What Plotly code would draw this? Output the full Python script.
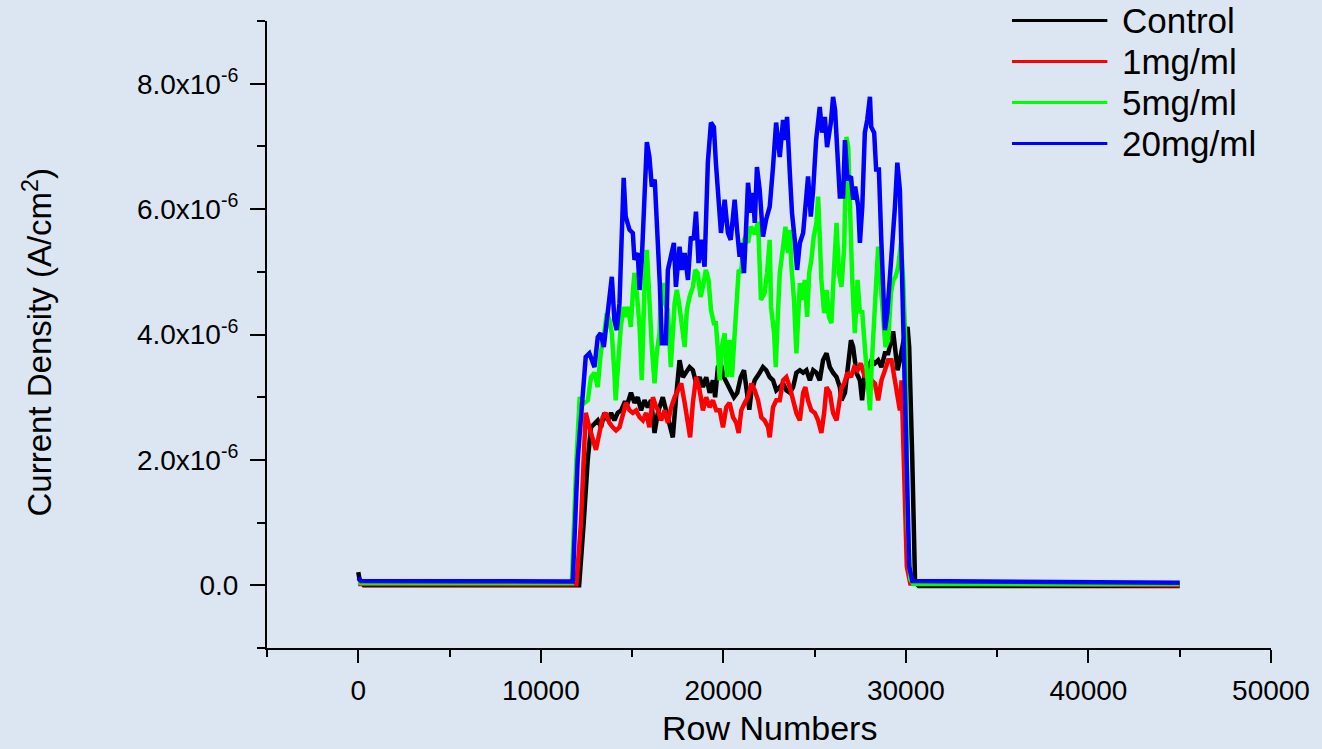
import plotly.graph_objects as go

# Current density traces, values in units of 1e-6 A/cm^2
UNIT = 1e-6

rows_control = [0, 80, 300, 6000, 12100, 12350, 12570, 12750, 12940, 13120, 13300, 13480, 13670, 13850,
                14030, 14210, 14400, 14580, 14760, 14940, 15130, 15310, 15490, 15680, 15860, 16040, 16230,
                16410, 16680, 16860, 17050, 17230, 17410, 17600, 17780, 17960, 18150, 18330, 18510, 18700,
                18880, 19060, 19250, 19430, 19550, 19700, 19850, 20030, 20210, 20400, 20580, 20760, 20950,
                21130, 21310, 21420, 21530, 21720, 21990, 22170, 22350, 22540, 22720, 22900, 23090, 23270,
                23450, 23640, 23820, 24000, 24190, 24370, 24550, 24740, 24920, 25100, 25280, 25460, 25650,
                25830, 26010, 26200, 26380, 26470, 26660, 26840, 26990, 27110, 27290, 27480, 27600, 27750,
                27940, 28120, 28300, 28480, 28660, 28850, 29030, 29300, 29400, 29540, 29670, 29800, 29950,
                30090, 30180, 30350, 30500, 30700, 45000]
cd_control = [0.21, 0.08, 0.0, 0.0, 0.0, 1.0, 2.0, 2.52, 2.59, 2.63, 2.52, 2.75, 2.63, 2.75,
              2.63, 2.75, 2.79, 2.91, 2.91, 3.07, 2.91, 3.0, 2.79, 2.95, 2.84, 2.95, 2.43,
              2.75, 3.0, 2.79, 2.59, 2.36, 3.0, 3.59, 3.32, 3.39, 3.48, 3.43, 3.22, 3.32,
              3.16, 3.32, 3.07, 3.27, 3.0, 3.48, 3.54, 3.32, 3.22, 3.11, 3.0, 3.07, 3.32,
              3.43, 3.0, 2.8, 3.07, 3.27, 3.39, 3.48, 3.43, 3.32, 3.27, 3.11, 3.16, 3.22,
              3.11, 3.07, 3.16, 3.39, 3.43, 3.39, 3.43, 3.27, 3.43, 3.39, 3.27, 3.59, 3.7,
              3.48, 3.39, 3.32, 3.16, 2.95, 3.07, 3.48, 3.91, 3.8, 3.39, 3.27, 2.95, 3.39,
              3.48, 3.59, 3.54, 3.59, 3.48, 3.7, 3.7, 4.05, 3.8, 3.43, 3.59, 3.8, 4.02,
              4.12, 3.8, 2.0, 0.05, -0.01, -0.01]

rows_1mg = [0, 6000, 11950, 12200, 12400, 12460, 12660, 12840, 13020, 13210, 13390, 13570, 13760, 13940,
            14120, 14310, 14490, 14670, 14860, 15040, 15220, 15410, 15590, 15770, 15950, 16140, 16320,
            16410, 16590, 16780, 16960, 17140, 17330, 17510, 17690, 17880, 18060, 18180, 18330, 18510,
            18700, 18880, 19060, 19250, 19430, 19610, 19800, 19980, 20160, 20340, 20530, 20710, 20840,
            20980, 21170, 21350, 21530, 21720, 21900, 22080, 22260, 22450, 22540, 22720, 22900, 23090,
            23270, 23450, 23640, 23820, 24000, 24190, 24370, 24490, 24640, 24820, 25010, 25190, 25370,
            25520, 25650, 25830, 26010, 26200, 26380, 26480, 26620, 26800, 26990, 27170, 27350, 27530,
            27750, 27940, 28120, 28300, 28480, 28660, 28850, 29030, 29210, 29400, 29540, 29670, 29760,
            29900, 30050, 30240, 45000]
cd_1mg = [0.02, 0.015, 0.015, 1.0, 2.5, 2.75, 2.52, 2.32, 2.16, 2.43, 2.68, 2.75, 2.59, 2.52,
          2.47, 2.52, 2.75, 2.91, 2.79, 2.75, 2.79, 2.68, 2.63, 2.75, 2.52, 3.0, 2.84,
          2.8, 2.63, 2.79, 2.59, 2.84, 3.0, 3.11, 3.22, 2.91, 2.59, 2.36, 2.91, 3.32,
          3.11, 2.79, 3.0, 2.84, 2.95, 2.79, 2.79, 2.52, 2.84, 2.91, 2.68, 2.59, 2.43,
          2.79, 2.91, 3.0, 3.22, 3.11, 2.95, 2.68, 2.63, 2.52, 2.36, 2.84, 2.95, 2.95,
          3.27, 3.32, 3.16, 2.95, 2.75, 2.63, 3.07, 3.16, 2.95, 2.79, 2.75, 2.63, 2.43,
          2.75, 3.16, 3.07, 2.75, 2.63, 2.95, 3.16, 3.22, 3.39, 3.32, 3.48, 3.43, 3.54,
          3.32, 3.39, 3.27, 3.22, 2.95, 3.27, 3.43, 3.59, 3.59, 3.27, 2.95, 2.79, 3.27,
          1.6, 0.3, 0.03, 0.0]

rows_5mg = [0, 150, 6000, 11700, 11950, 12130, 12350, 12570, 12750, 12940, 13120, 13280, 13480, 13610,
            13760, 13890, 14030, 14100, 14250, 14380, 14540, 14650, 14800, 14930, 15040, 15130, 15260,
            15410, 15530, 15680, 15810, 15950, 16080, 16230, 16350, 16500, 16560, 16680, 16790, 16960,
            17120, 17330, 17450, 17600, 17730, 17880, 18000, 18150, 18330, 18460, 18600, 18750, 18880,
            19040, 19190, 19320, 19480, 19590, 19700, 19800, 19920, 20070, 20200, 20340, 20470, 20580,
            20710, 20840, 20970, 21130, 21240, 21350, 21500, 21720, 21900, 22060, 22260, 22390, 22540,
            22610, 22780, 22870, 22990, 23090, 23270, 23400, 23540, 23640, 23730, 23870, 24000, 24090,
            24190, 24310, 24460, 24590, 24700, 24820, 24950, 25100, 25190, 25280, 25370, 25520, 25650,
            25780, 25920, 26050, 26200, 26330, 26470, 26620, 26740, 26840, 26930, 27060, 27200, 27350,
            27480, 27600, 27750, 27900, 28030, 28120, 28260, 28390, 28480, 28630, 28760, 28880, 29030,
            29180, 29310, 29430, 29580, 29730, 29850, 29980, 30090, 30240, 30400, 45000]
cd_5mg = [0.05, 0.035, 0.035, 0.035, 2.0, 3.0, 2.9, 2.95, 3.32, 3.39, 3.16, 3.7, 4.02, 4.34,
          4.23, 4.02, 3.39, 2.95, 3.59, 4.12, 4.44, 4.28, 4.44, 4.12, 4.66, 4.98, 4.66,
          4.12, 3.27, 4.76, 5.35, 4.44, 3.8, 3.22, 3.7, 4.02, 4.5, 4.82, 4.5, 4.39,
          3.48, 4.5, 4.71, 4.44, 4.18, 3.8, 4.39, 4.6, 4.76, 5.03, 4.98, 4.6, 4.76,
          5.03, 4.87, 4.39, 4.18, 4.18, 3.75, 3.27, 3.8, 4.02, 3.32, 3.91, 3.32, 3.86,
          4.6, 5.03, 4.98, 5.51, 5.56, 5.46, 5.72, 5.6, 5.8, 4.55, 4.66, 4.98, 5.51,
          4.44, 4.02, 3.48, 4.34, 4.98, 5.4, 5.72, 5.3, 5.67, 5.08, 4.55, 3.7, 4.23,
          4.82, 4.55, 4.87, 4.28, 4.98, 5.19, 5.56, 5.78, 6.2, 5.56, 4.87, 4.34, 4.71,
          4.28, 4.18, 4.98, 5.78, 4.98, 4.76, 5.4, 7.15, 6.99, 6.04, 4.87, 4.02, 4.87,
          4.34, 4.39, 3.8, 3.27, 2.79, 3.48, 4.34, 5.08, 5.4, 4.76, 4.23, 3.8, 3.91,
          4.66, 4.87, 4.92, 5.08, 5.46, 4.87, 3.8, 1.0, 0.1, 0.02, 0.02]

rows_20mg = [0, 150, 6000, 11750, 12020, 12290, 12460, 12660, 12940, 13120, 13280, 13450, 13560, 13760,
             13890, 14030, 14160, 14310, 14430, 14540, 14650, 14860, 15040, 15130, 15310, 15410, 15530,
             15680, 15810, 15950, 16080, 16240, 16410, 16520, 16630, 16850, 16960, 17120, 17290, 17400,
             17600, 17730, 17880, 18060, 18220, 18370, 18500, 18640, 18770, 18970, 19150, 19320, 19480,
             19590, 19740, 19870, 20070, 20250, 20400, 20620, 20750, 20890, 20970, 21130, 21240, 21350,
             21510, 21620, 21720, 21840, 21990, 22170, 22340, 22540, 22720, 22890, 23090, 23270, 23380,
             23490, 23640, 23760, 23910, 24040, 24190, 24370, 24530, 24640, 24790, 24920, 25080, 25280,
             25410, 25560, 25680, 25890, 26010, 26120, 26230, 26380, 26560, 26660, 26800, 26990, 27110,
             27220, 27390, 27480, 27610, 27750, 27880, 28030, 28100, 28260, 28370, 28520, 28650, 28760,
             28850, 28980, 29130, 29250, 29400, 29530, 29670, 29750, 29910, 30020, 30180, 30350, 45000]
cd_20mg = [0.12, 0.07, 0.065, 0.06, 2.0, 3.0, 3.64, 3.7, 3.48, 3.96, 4.02, 3.8, 4.12, 4.55,
           4.92, 4.23, 4.07, 4.5, 5.83, 6.5, 5.88, 5.67, 5.62, 5.19, 5.3, 4.71, 5.19,
           6.04, 7.07, 6.83, 6.36, 6.47, 5.6, 4.8, 3.86, 3.86, 5.03, 5.24, 5.46, 4.76,
           5.4, 5.03, 5.3, 4.87, 5.56, 5.51, 5.96, 5.14, 5.51, 5.08, 6.74, 7.38, 7.31,
           6.74, 6.15, 5.62, 6.15, 5.62, 5.51, 6.15, 5.67, 5.24, 5.46, 4.98, 5.67, 6.42,
           5.94, 6.26, 5.78, 6.67, 6.31, 5.56, 5.83, 6.04, 6.67, 7.38, 6.83, 7.42, 7.1,
           7.47, 6.58, 5.94, 5.51, 5.03, 5.46, 5.62, 6.15, 6.52, 5.88, 6.31, 7.1, 7.63,
           7.22, 7.47, 6.99, 7.38, 7.79, 7.58, 6.99, 6.2, 6.2, 7.1, 6.47, 6.52, 6.15,
           6.36, 6.04, 5.46, 6.04, 7.22, 7.42, 7.79, 7.31, 7.22, 6.63, 6.63, 5.51, 4.87,
           4.07, 4.34, 4.87, 5.51, 6.04, 6.74, 6.31, 5.4, 3.8, 2.2, 0.3, 0.07, 0.04]

series_names = ["Control", "1mg/ml", "5mg/ml", "20mg/ml"]
series_rows = [rows_control, rows_1mg, rows_5mg, rows_20mg]
series_cd = [cd_control, cd_1mg, cd_5mg, cd_20mg]
series_colors = ["#000000", "#ff0000", "#00ff00", "#0000ff"]

x_major = [0, 10000, 20000, 30000, 40000, 50000]
x_major_text = ["0", "10000", "20000", "30000", "40000", "50000"]
x_minor = [-5000, 5000, 15000, 25000, 35000, 45000]
y_major = [0, 2e-6, 4e-6, 6e-6, 8e-6]
y_major_text = ["0.0", "2.0x10<sup>-6</sup>", "4.0x10<sup>-6</sup>",
                "6.0x10<sup>-6</sup>", "8.0x10<sup>-6</sup>"]
y_minor = [-1e-6, 1e-6, 3e-6, 5e-6, 7e-6, 9e-6]

BG = "#dce6f2"
FONT = "Liberation Sans, Arial, sans-serif"

fig = go.Figure()
for name, xs, ys, color in zip(series_names, series_rows, series_cd, series_colors):
    fig.add_trace(go.Scatter(
        x=xs, y=[v * UNIT for v in ys], mode="lines", name=name,
        line=dict(color=color, width=4.5), showlegend=False,
    ))

axis_common = dict(
    showline=True, linecolor="black", linewidth=2, mirror=False,
    showgrid=False, zeroline=False, ticks="outside", tickwidth=2,
    tickcolor="black", tickmode="array",
    tickfont=dict(family=FONT, size=28, color="black"),
)
fig.update_xaxes(
    range=[-5000, 50000], tickvals=x_major, ticktext=x_major_text, ticklen=13,
    ticklabelstandoff=3,
    minor=dict(tickvals=x_minor, ticks="outside", ticklen=7, tickwidth=2,
               tickcolor="black", showgrid=False),
    **axis_common,
)
fig.update_yaxes(
    range=[-1e-6, 9e-6], tickvals=y_major, ticktext=y_major_text, ticklen=15,
    ticklabelstandoff=6,
    minor=dict(tickvals=y_minor, ticks="outside", ticklen=8, tickwidth=2,
               tickcolor="black", showgrid=False),
    **axis_common,
)

annotations = [
    dict(text="Row Numbers", xref="paper", yref="paper", x=0.5, y=0,
         xanchor="center", yanchor="middle", yshift=-80, showarrow=False,
         font=dict(family=FONT, size=34, color="black")),
    dict(text="Current Density (A/cm<sup>2</sup>)", xref="paper", yref="paper",
         x=0, y=0.5, xanchor="center", yanchor="middle", xshift=-230, yshift=-8,
         textangle=-90, showarrow=False,
         font=dict(family=FONT, size=33, color="black")),
]

# Legend drawn as long line samples with labels in the upper right
shapes = []
legend_y = [1.0006, 0.9353, 0.8699, 0.8045]
for name, color, ly in zip(series_names, series_colors, legend_y):
    shapes.append(dict(type="line", xref="paper", yref="paper", x0=0.742, x1=0.837,
                       y0=ly, y1=ly, line=dict(color=color, width=3)))
    annotations.append(dict(text=name, xref="paper", yref="paper", x=0.8497, y=ly,
                            xanchor="left", yanchor="middle", showarrow=False,
                            font=dict(family=FONT, size=35, color="black")))

fig.update_layout(
    width=1322, height=749,
    margin=dict(l=267, r=51, t=21, b=101),
    paper_bgcolor=BG, plot_bgcolor=BG,
    font=dict(family=FONT, color="black"),
    annotations=annotations, shapes=shapes,
    showlegend=False,
)

fig.write_html("out.html")
